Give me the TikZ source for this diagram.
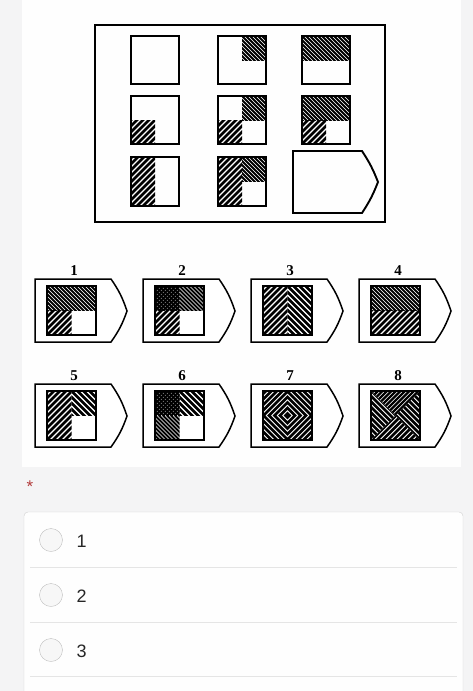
\documentclass[tikz,border=0pt]{standalone}
\usepackage{fontspec}
\setmainfont{Liberation Serif}
\newfontfamily\uisans{Liberation Sans}
\definecolor{pagebg}{HTML}{F4F4F5}
\definecolor{cardbg}{HTML}{FEFEFE}
\definecolor{starred}{HTML}{B23A3A}
% fine "\" hatching
\newcommand\hF[4]{\begin{scope}\clip (#1,#2) rectangle (#3,#4);
  \foreach \k in {-60,-56,...,60} \draw[line width=2pt] (#1+\k,#2) -- ++(60,60);\end{scope}}
% coarse "/" hatching
\newcommand\hC[4]{\begin{scope}\clip (#1,#2) rectangle (#3,#4);
  \foreach \k in {-60,-54,...,60} \draw[line width=2.7pt] (#1+\k,#4) -- ++(60,-60);\end{scope}}
% coarse "\" hatching
\newcommand\hCb[4]{\begin{scope}\clip (#1,#2) rectangle (#3,#4);
  \foreach \k in {-60,-54,...,60} \draw[line width=2.7pt] (#1+\k,#2) -- ++(60,60);\end{scope}}
% dense cross hatching
\newcommand\hD[4]{\begin{scope}\clip (#1,#2) rectangle (#3,#4);
  \foreach \k in {-60,-56,...,60} {\draw[line width=1.8pt] (#1+\k,#2) -- ++(60,60);
  \draw[line width=1.8pt] (#1+\k,#4) -- ++(60,-60);}\end{scope}}
\begin{document}
\begin{tikzpicture}[x=1pt,y=-1pt,
  cellbox/.style={draw=black,line width=1.9pt},
  framebox/.style={draw=black,line width=1.8pt},
  optshape/.style={draw=black,line width=1.5pt,fill=white},
  innersq/.style={draw=black,line width=2pt},
  optnum/.style={font=\bfseries\fontsize{15}{15}\selectfont},
  choice/.style={font=\uisans\fontsize{18}{18}\selectfont,text=black!85,anchor=west},
  radio/.style={circle,draw=black!25,fill=black!3,minimum size=23pt,inner sep=0pt}]
\useasboundingbox (0,0) rectangle (473,691);
\fill[pagebg] (0,0) rectangle (473,691);
\fill[cardbg] (22,0) rectangle (461,467);
% ---- puzzle matrix
\node[framebox,minimum width=290pt,minimum height=197pt,inner sep=0pt] (frame) at (240,123.5) {};
% row 1
\node[cellbox,minimum size=48pt,inner sep=0pt] (c11) at (155,60) {};
\hF{242}{36}{266}{60}
\node[cellbox,minimum size=48pt,inner sep=0pt] (c12) at (242,60) {};
\hF{302}{36}{350}{60}
\node[cellbox,minimum size=48pt,inner sep=0pt] (c13) at (326,60) {};
% row 2
\hC{131}{120}{155}{144}
\node[cellbox,minimum size=48pt,inner sep=0pt] (c21) at (155,120) {};
\hF{242}{96}{266}{120}\hC{218}{120}{242}{144}
\node[cellbox,minimum size=48pt,inner sep=0pt] (c22) at (242,120) {};
\hF{302}{96}{350}{120}\hC{302}{120}{326}{144}
\node[cellbox,minimum size=48pt,inner sep=0pt] (c23) at (326,120) {};
% row 3
\hC{131}{157}{155}{206}
\node[cellbox,minimum size=48pt,minimum height=49pt,inner sep=0pt] (c31) at (155,181.5) {};
\hC{218}{157}{242}{206}\hF{242}{157}{266}{181}
\node[cellbox,minimum size=48pt,minimum height=49pt,inner sep=0pt] (c32) at (242,181.5) {};
\draw[cellbox] (293,151) -- (362,151) to[bend left=6] (378,182) to[bend left=6] (362,213) -- (293,213) -- cycle;
% ---- answer options
\foreach \n/\L/\T in {1/35/279,2/143/279,3/251/279,4/359/279,5/35/384,6/143/384,7/251/384,8/359/384}{
  \draw[optshape] (\L,\T) -- (\L+76,\T) to[bend left=8] (\L+92,\T+32) to[bend left=8] (\L+76,\T+63) -- (\L,\T+63) -- cycle;
  \node[optnum] (lab\n) at (\L+39,\T-8) {\n};
}
% option 1
\hF{47}{286}{96}{310.5}\hC{47}{310.5}{71.5}{335}
% option 2
\hD{155}{286}{179.5}{310.5}\hF{179.5}{286}{204}{310.5}\hC{155}{310.5}{179.5}{335}
% option 3
\hC{263}{286}{287.5}{335}\hCb{287.5}{286}{312}{335}
% option 4
\hF{371}{286}{420}{310.5}\hC{371}{310.5}{420}{335}
% option 5
\hC{47}{391}{71.5}{440}\hCb{71.5}{391}{96}{415.5}
% option 6
\hD{155}{391}{179.5}{415.5}\hCb{179.5}{391}{204}{415.5}\hF{155}{415.5}{179.5}{440}
% option 7 concentric diamonds
\begin{scope}\clip (263,391) rectangle (312,440);
  \foreach \r in {2,7.5,...,50} \draw[line width=2.8pt] (287.5,415.5-\r) -- (287.5+\r,415.5) -- (287.5,415.5+\r) -- (287.5-\r,415.5) -- cycle;
\end{scope}
% option 8 X pattern
\begin{scope}\clip (371,391) -- (420,391) -- (395.5,415.5) -- cycle;
  \foreach \k in {-60,-55.5,...,60} \draw[line width=2.2pt] (371+\k,440) -- ++(60,-60);\end{scope}
\begin{scope}\clip (371,440) -- (420,440) -- (395.5,415.5) -- cycle;
  \foreach \k in {-60,-54.5,...,60} \draw[line width=2.7pt] (371+\k,440) -- ++(60,-60);\end{scope}
\begin{scope}\clip (371,391) -- (371,440) -- (395.5,415.5) -- cycle;
  \foreach \k in {-60,-54.5,...,60} \draw[line width=2.7pt] (371+\k,391) -- ++(60,60);\end{scope}
\begin{scope}\clip (420,391) -- (420,440) -- (395.5,415.5) -- cycle;
  \foreach \k in {-60,-54.5,...,60} \draw[line width=2.7pt] (371+\k,391) -- ++(60,60);\end{scope}
% inner square borders
\foreach \L/\T in {35/279,143/279,251/279,359/279,35/384,143/384,251/384,359/384}{
  \draw[innersq] (\L+12,\T+7) rectangle (\L+61,\T+56);
}
% ---- form part
\node[text=starred,font=\uisans\fontsize{17}{17}\selectfont] (star) at (30,487) {*};
\draw[black!18,fill=cardbg,rounded corners=4pt] (24,512) rectangle (463,720);
\coordinate (s1a) at (30,567); \coordinate (s1b) at (457,567);
\coordinate (s2a) at (30,622); \coordinate (s2b) at (457,622);
\coordinate (s3a) at (30,676); \coordinate (s3b) at (457,676);
\draw[black!10] (s1a) -- (s1b);
\draw[black!10] (s2a) -- (s2b);
\draw[black!10] (s3a) -- (s3b);
\node[radio] (r1) at (51,540) {};
\node[radio] (r2) at (51,595) {};
\node[radio] (r3) at (51,650) {};
\node[choice] (t1) at (73,541) {1};
\node[choice] (t2) at (73,596) {2};
\node[choice] (t3) at (73,651) {3};
\end{tikzpicture}
\end{document}
